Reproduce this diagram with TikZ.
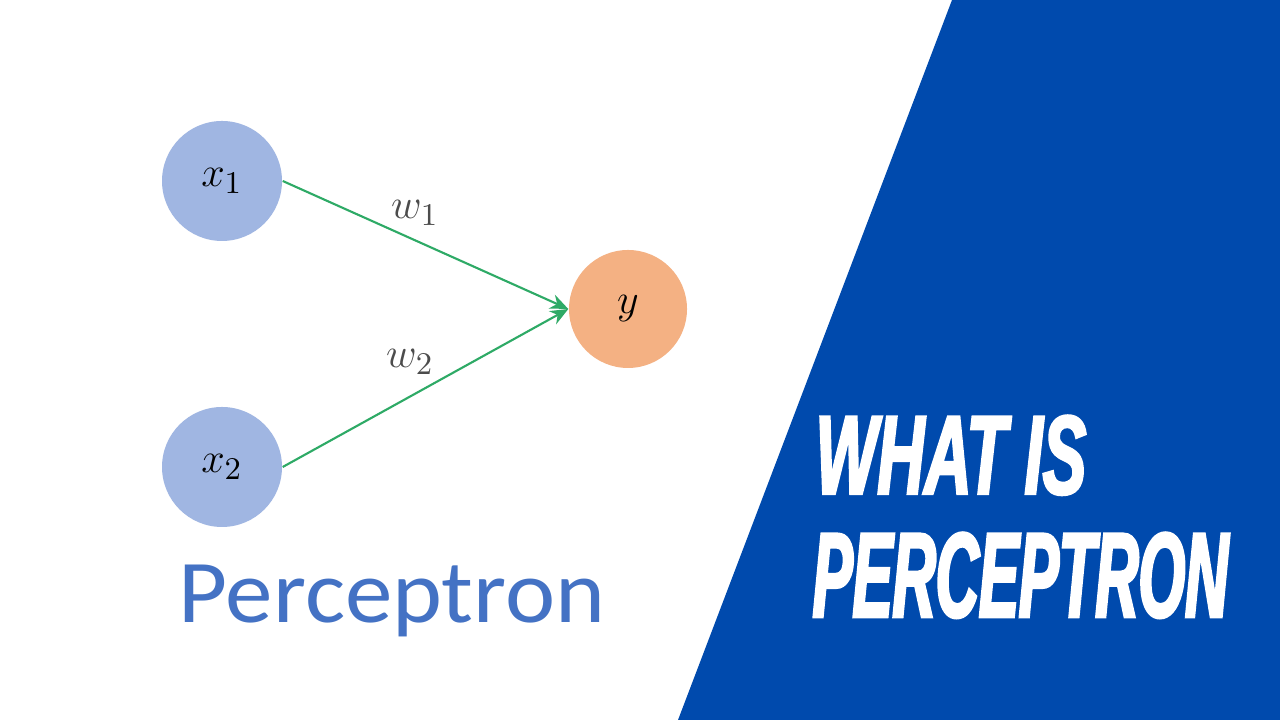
\documentclass[tikz,border=0pt]{standalone}
\usepackage{fontspec}
\usetikzlibrary{arrows.meta}
\newfontfamily\labelfont[FakeStretch=1.06]{Carlito}
\newfontfamily\titlefont[FakeBold=2.2]{Liberation Sans}
\definecolor{bannerblue}{RGB}{0,74,173}
\definecolor{inblue}{RGB}{160,182,226}
\definecolor{outorange}{RGB}{244,177,131}
\definecolor{wgreen}{RGB}{46,170,102}
\definecolor{captionblue}{RGB}{68,114,196}
\begin{document}
\begin{tikzpicture}[
input/.style={circle, fill=inblue, minimum size=12mm, inner sep=0pt, font=\fontsize{13}{15}\selectfont},
output/.style={circle, fill=outorange, minimum size=11.8mm, inner sep=0pt, font=\fontsize{13}{15}\selectfont},
weight/.style={draw=wgreen, semithick, -{Stealth[length=1.8mm, width=1.5mm]}},
wlabel/.style={font=\fontsize{13}{15}\selectfont, text=black!70},
headline/.style={anchor=base west, text=white, inner sep=0pt},
]
\useasboundingbox (0,0) rectangle (12.8,7.2);
\fill[white] (0,0) rectangle (12.8,7.2);
\fill[bannerblue] (9.52,7.2) -- (12.8,7.2) -- (12.8,0) -- (6.78,0) -- cycle;
\node[input] (X1) at (2.22,5.39) {$x_1$};
\node[input] (X2) at (2.22,2.53) {$x_2$};
\node[output] (Y) at (6.28,4.11) {$y$};
\draw[weight] (X1.east) -- (Y.west);
\draw[weight] (X2.east) -- (Y.west);
\node[wlabel] (W1) at (4.15,5.07) {$w_1$};
\node[wlabel] (W2) at (4.10,3.58) {$w_2$};
\node[anchor=base west, inner sep=0pt, text=captionblue] (caption) at (1.78,0.97)
    {\labelfont\fontsize{25.5}{30}\selectfont Perceptron};
\node[headline] (line1) at (8.15,2.26)
    {\titlefont\bfseries\itshape\addfontfeatures{FakeStretch=0.58}\fontsize{32}{36}\selectfont WHAT IS};
\node[headline] (line2) at (8.12,1.03)
    {\titlefont\bfseries\itshape\addfontfeatures{FakeStretch=0.495}\fontsize{34.4}{38}\selectfont PERCEPTRON};
\end{tikzpicture}
\end{document}
